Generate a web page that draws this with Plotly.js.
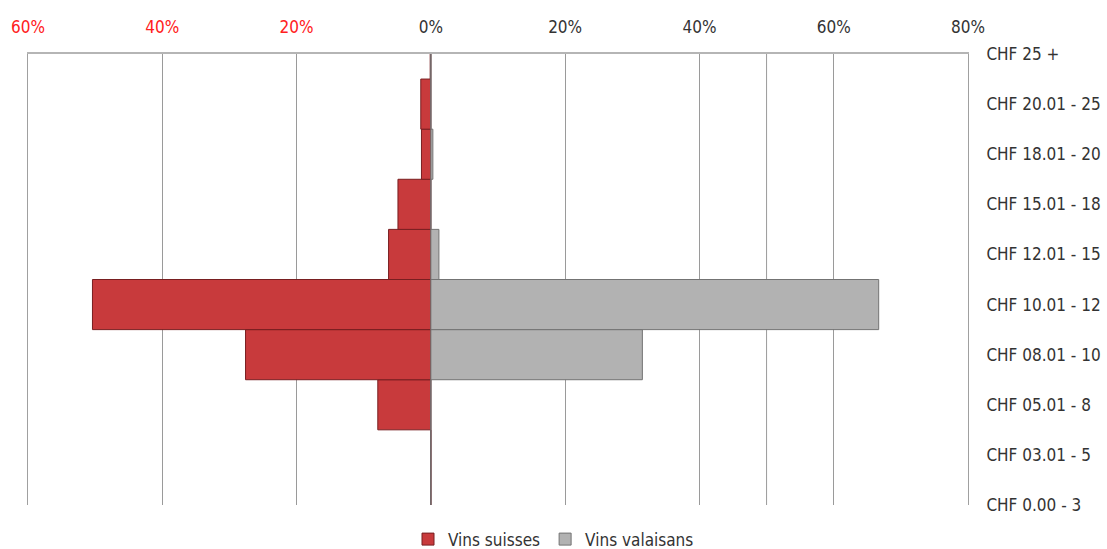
<!DOCTYPE html>
<html>
<head>
<meta charset="utf-8">
<script src="https://cdn.plot.ly/plotly-3.0.1.min.js"></script>
<style>html,body{margin:0;padding:0;background:#fff;}#chart{width:1107px;height:549px;}</style>
</head>
<body>
<div id="chart"></div>
<script>
const categories = ["CHF 0.00 - 3","CHF 03.01 - 5","CHF 05.01 - 8","CHF 08.01 - 10","CHF 10.01 - 12","CHF 12.01 - 15","CHF 15.01 - 18","CHF 18.01 - 20","CHF 20.01 - 25","CHF 25 +"];
const vinsSuisses = [0, 0, 7.9, 27.6, 50.4, 6.3, 4.9, 1.4, 1.5, 0.1];
const vinsValaisans = [0, 0, 0, 31.5, 66.7, 1.2, 0, 0.3, 0, 0];
const tickValues = [-60, -40, -20, 0, 20, 40, 60, 80];
const tickLabels = ["60%","40%","20%","0%","20%","40%","60%","80%"];
const extraGrid = [50];

const FONT = '"Liberation Sans Narrow", "DejaVu Sans Condensed", "Roboto", sans-serif';

const traces = [
  {
    type: 'bar', orientation: 'h', name: 'Vins suisses',
    y: categories, x: vinsSuisses.map(v => -v),
    marker: {color: 'rgb(200,58,60)', line: {color: 'rgb(120,30,32)', width: 1}},
    hoverinfo: 'y+text', text: vinsSuisses.map(v => v + '%'), textposition: 'none'
  },
  {
    type: 'bar', orientation: 'h', name: 'Vins valaisans',
    y: categories, x: vinsValaisans,
    marker: {color: 'rgb(178,178,178)', line: {color: 'rgb(115,115,115)', width: 1}},
    hoverinfo: 'y+text', text: vinsValaisans.map(v => v + '%'), textposition: 'none'
  }
];

const layout = {
  width: 1107, height: 549,
  margin: {l: 28, r: 139, t: 54, b: 44, autoexpand: false},
  paper_bgcolor: '#fff', plot_bgcolor: '#fff',
  font: {family: FONT, size: 17, color: '#333'},
  barmode: 'relative', bargap: 0,
  showlegend: true,
  legend: {
    orientation: 'h', xref: 'container', yref: 'container',
    x: 0.5, xanchor: 'center', y: 0.05, yanchor: 'top',
    font: {family: FONT, size: 17, color: '#333'},
    traceorder: 'normal'
  },
  xaxis: {
    side: 'top', range: [-60, 80],
    tickmode: 'array', tickvals: tickValues,
    ticktext: tickLabels.map((t, i) => tickValues[i] < 0 ? '<span style="color:#ff2020">' + t + '</span>' : t),
    showgrid: true, gridcolor: '#9a9a9a', gridwidth: 1,
    zeroline: true, zerolinecolor: '#8a8a8a', zerolinewidth: 1,
    showline: true, linecolor: '#b5b5b5', linewidth: 2,
    ticks: '', ticklabelstandoff: 12, automargin: false,
    tickfont: {family: FONT, size: 17, color: '#333'},
    fixedrange: true
  },
  yaxis: {
    side: 'right', type: 'category', categoryorder: 'array', categoryarray: categories,
    range: [0, categories.length - 1],
    showgrid: false, zeroline: false,
    showline: true, mirror: true, linecolor: '#a0a0a0', linewidth: 1,
    ticks: '', ticklabelstandoff: 14, automargin: false,
    tickfont: {family: FONT, size: 17, color: '#333'},
    fixedrange: true
  },
  shapes: extraGrid.map(v => ({
    type: 'line', xref: 'x', yref: 'paper', x0: v, x1: v, y0: 0, y1: 1,
    line: {color: '#9a9a9a', width: 1}, layer: 'below'
  }))
};

Plotly.newPlot('chart', traces, layout, {displayModeBar: false, staticPlot: true});
</script>
</body>
</html>
